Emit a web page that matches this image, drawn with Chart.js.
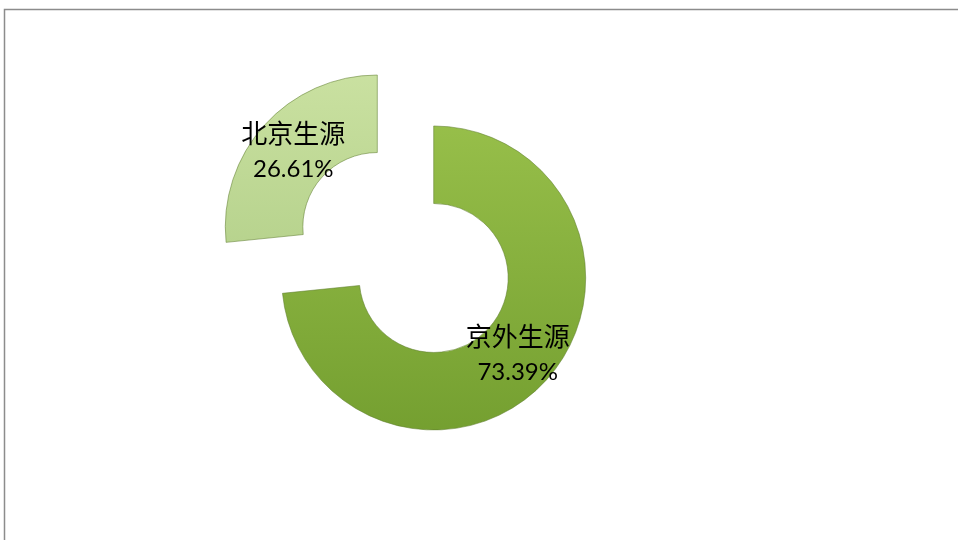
<!DOCTYPE html>
<html>
<head>
<meta charset="utf-8">
<script src="https://cdn.jsdelivr.net/npm/chart.js@4"></script>
<style>
  html, body { margin: 0; padding: 0; background: #fff; }
  #wrap { width: 958px; height: 540px; position: relative; }
</style>
</head>
<body>
<div id="wrap"><canvas id="canvas"></canvas></div>
<script>
// 生源构成
var labels = ['京外生源', '北京生源'];
var values = [73.39, 26.61];
var percentText = ['73.39%', '26.61%'];

// gradient stops per slice (top -> bottom)
var fillTop = ['#9dc44e', '#cae1a1'];
var fillBottom = ['#749f30', '#a3c479'];
var explode = 38;   // every slice pulled out like the excel chart

function sliceFill(context) {
    var chart = context.chart;
    if (!chart.chartArea) return fillTop[context.dataIndex];
    var g = chart.ctx.createLinearGradient(0, 70, 0, 435);
    g.addColorStop(0, fillTop[context.dataIndex]);
    g.addColorStop(1, fillBottom[context.dataIndex]);
    return g;
}

// push each arc out along its middle angle (same amount for all slices)
var explodePlugin = {
    id: 'explode',
    afterDatasetUpdate: function (chart, args) {
        chart.getDatasetMeta(args.index).data.forEach(function (arc) {
            var half = (arc.startAngle + arc.endAngle) / 2;
            arc.x += Math.cos(half) * explode;
            arc.y += Math.sin(half) * explode;
        });
    }
};

// frame + labels drawn on the canvas
var framePlugin = {
    id: 'frame',
    afterDraw: function (chart) {
        var c = chart.ctx;
        c.save();
        c.strokeStyle = '#8c8c8c';
        c.lineWidth = 1.5;
        c.beginPath();
        c.moveTo(4.5, 540);
        c.lineTo(4.5, 9.5);
        c.lineTo(958, 9.5);
        c.stroke();

        var meta = chart.getDatasetMeta(0);
        meta.data.forEach(function (arc, i) {
            var half = (arc.startAngle + arc.endAngle) / 2;
            var r = (arc.innerRadius + arc.outerRadius) / 2;
            var x = arc.x + Math.cos(half) * r;
            var y = arc.y + Math.sin(half) * r;
            c.fillStyle = '#000';
            c.textAlign = 'center';
            c.textBaseline = 'middle';
            c.font = '26px "Noto Sans CJK SC"';
            c.fillText(labels[i], x, y - 18);
            c.font = '24px Lato, sans-serif';
            c.fillText(percentText[i], x, y + 18);
        });
        c.restore();
    }
};

var ctx = canvas.getContext('2d');
var config = {
    type: 'doughnut',
    data: {
        labels: labels,
        datasets: [{
            data: values,
            backgroundColor: sliceFill,
            borderColor: 'rgba(95,125,45,0.55)',
            borderWidth: 1,
            radius: 152,
            hoverOffset: 0
        }]
    },
    options: {
        responsive: true,
        maintainAspectRatio: false,
        animation: false,
        cutout: '49%',
        layout: { padding: { left: 0, top: 0, right: 147, bottom: 35 } },
        plugins: {
            legend: { display: false },
            tooltip: { enabled: false }
        }
    },
    plugins: [explodePlugin, framePlugin]
};

var chart = new Chart(ctx, config);
</script>
</body>
</html>
